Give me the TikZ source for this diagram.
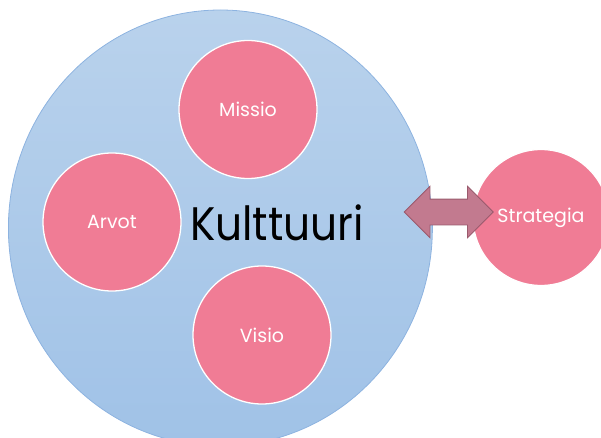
\documentclass[tikz,border=0pt]{standalone}
\usepackage{fontspec}
\setmainfont{Poppins}
\newfontfamily\titlefont[FakeStretch=0.9]{Poppins}
\usetikzlibrary{shapes.geometric,shapes.arrows}
\definecolor{culttop}{HTML}{B9D2EC}
\definecolor{cultbot}{HTML}{A0C2E7}
\definecolor{cultedge}{HTML}{8DB3E0}
\definecolor{petal}{HTML}{F07C95}
\definecolor{arrowfill}{HTML}{C27A8F}
\definecolor{arrowedge}{HTML}{9A5A6D}
\tikzset{
  culture/.style={ellipse, inner sep=0pt, minimum width=424pt, minimum height=436pt,
    top color=culttop, bottom color=cultbot, draw=cultedge, line width=0.8pt},
  petalnode/.style={circle, inner sep=0pt, minimum size=138pt, fill=petal,
    draw=white, line width=1.3pt, text=white, font=\fontsize{19}{22}\selectfont},
  linkarrow/.style={double arrow, inner sep=0pt, minimum height=89pt,
    double arrow head extend=12.8pt, fill=arrowfill, draw=arrowedge, line width=0.8pt},
}
\begin{document}
\begin{tikzpicture}[x=1pt, y=-1pt]
  \useasboundingbox (0,0) rectangle (601,438);
  \clip (0,0) rectangle (601,438);
  \node[culture] (kulttuuri) at (220.4,228) {};
  \node[font=\titlefont\fontsize{47}{50}\selectfont, inner sep=0pt] (kt) at (277,223) {Kulttuuri};
  \node[petalnode] (missio) at (248,109.5) {Missio};
  \node[petalnode] (arvot) at (112,222) {Arvot};
  \node[petalnode] (visio) at (262,335) {Visio};
  \node[petalnode, minimum size=136pt] (strategia) at (541,217.5) {Strategia};
  % shaft thickness comes from the strut inside the node
  \node[linkarrow] (link) at (448.7,212) {\rule{0pt}{25pt}};
\end{tikzpicture}
\end{document}
